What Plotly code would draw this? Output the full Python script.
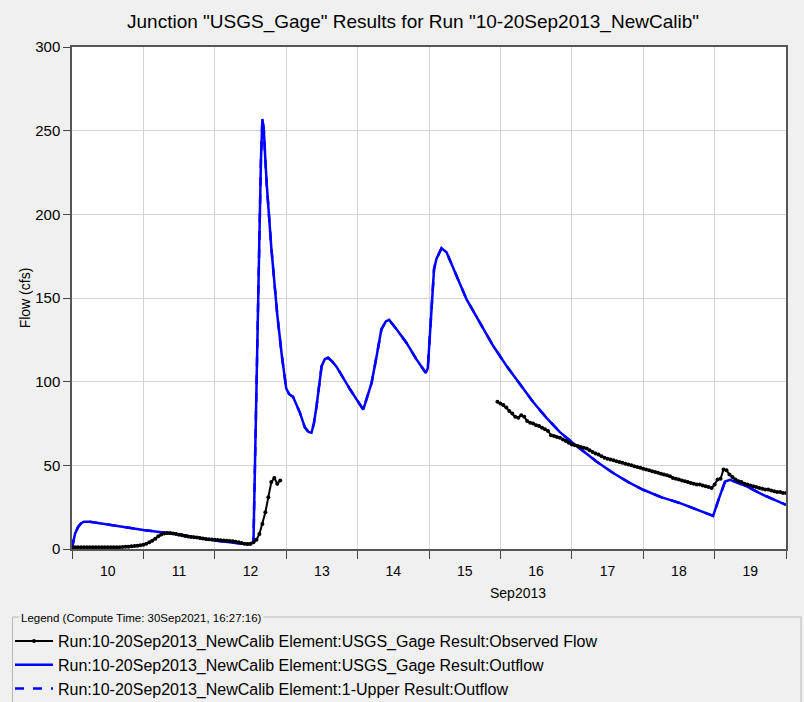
import pandas as pd
import plotly.graph_objects as go

# Simulation start; all times below are hours after this instant
START = pd.Timestamp("2013-09-10 00:00")

# Observed flow (cfs), hourly, first record: 10Sep 00:00 - 12Sep 22:00
obs_flow_a = [
    1.0, 1.0, 1.0, 1.0, 1.0, 1.0, 1.0, 1.0, 1.0, 1.0, 1.0, 1.0, 1.0, 1.0, 1.0, 1.0,
    1.1, 1.2, 1.3, 1.4, 1.6, 1.8, 2.0, 2.2, 2.5, 3.2, 4.0, 5.0, 6.2, 7.6, 8.6, 9.2,
    9.5, 9.5, 9.3, 9.0, 8.5, 8.2, 7.8, 7.4, 7.1, 7.0, 6.8, 6.5, 6.3, 6.0, 5.9, 5.7,
    5.5, 5.4, 5.2, 5.1, 5.0, 4.8, 4.6, 4.3, 4.0, 3.6, 3.2, 3.0, 3.2, 4.0, 5.5, 9.0,
    15.0, 22.0, 31.0, 40.0, 42.5, 39.0, 41.0,
]
obs_start_a = 0

# Observed flow (cfs), hourly, second record: 15Sep 23:00 - 20Sep 00:00
obs_flow_b = [
    88.0, 87.0, 86.0, 84.5, 82.5, 81.0, 79.0, 78.5, 80.0, 79.0, 76.5, 75.5, 75.0,
    74.0, 73.5, 72.5, 71.5, 70.5, 68.0, 67.5, 67.0, 66.5, 65.5, 64.5, 63.5, 62.5,
    62.0, 61.5, 61.0, 60.5, 60.0, 59.0, 58.0, 57.0, 56.5, 55.5, 54.5, 54.0, 53.5,
    53.0, 52.5, 52.0, 51.5, 51.0, 50.5, 50.0, 49.5, 49.0, 48.5, 48.0, 47.5, 47.0,
    46.5, 46.0, 45.5, 45.0, 44.5, 44.0, 43.5, 42.5, 42.0, 41.5, 41.0, 40.5, 40.0,
    39.5, 39.0, 38.5, 38.5, 38.0, 37.5, 37.0, 36.5, 38.5, 41.5, 42.0, 47.5, 47.0,
    44.5, 43.0, 41.5, 40.5, 40.0, 39.0, 38.5, 38.0, 37.5, 37.0, 36.5, 36.0, 35.5,
    35.5, 35.0, 34.5, 34.0, 34.0, 33.5, 33.5,
]
obs_start_b = 143

# Computed outflow at the gage (cfs)
out_hours = [
    0, 1, 2, 3, 4, 6, 12, 24, 36, 48, 58, 60, 61, 61.5, 62, 62.5, 63, 63.5, 64,
    64.5, 65, 65.5, 67, 69, 70.5, 72, 73, 74.3, 76.6, 78.3, 79.5, 80.5, 81.3, 82.2,
    83.9, 85, 86.1, 87.5, 88.9, 93.5, 97.9, 99.5, 100.7, 102.4, 104, 105.5, 106.6,
    109.1, 112.4, 115.8, 118.9, 119.6, 120.5, 121.2, 121.7, 122.5, 124.2, 125.9,
    129.3, 132.6, 137.1, 141.6, 146.1, 150.6, 155.0, 159.5, 164.0, 169, 176.3,
    181.9, 187.0, 192, 198.0, 204.4, 210.0, 215.5, 217.3, 219.5, 221.2, 226.8,
    232.3, 240,
]
out_flow = [
    0.5, 9.0, 13.0, 15.3, 16.3, 16.3, 14.6, 11.4, 8.7, 5.0, 3.0, 2.8, 4.4, 50.0,
    100.0, 149.0, 195.0, 232.0, 257.0, 250.0, 232.0, 217.0, 180.0, 140.0, 116.0,
    96.0, 92.5, 91.0, 81.5, 72.5, 70.0, 69.5, 75.0, 85.3, 109.3, 113.5, 114.3,
    112.0, 109.0, 95.3, 83.3, 92.0, 99.3, 115.3, 131.3, 136.0, 136.9, 131.3, 123.3,
    113.3, 105.3, 108.0, 131.3, 151.3, 167.3, 173.3, 179.7, 177.3, 163.3, 149.3,
    135.3, 121.3, 109.3, 98.3, 87.8, 78.4, 69.8, 62.4, 52.3, 45.4, 40.0, 35.4,
    31.0, 27.4, 23.4, 19.8, 29.4, 40.3, 41.4, 37.4, 32.4, 26.4,
]

# Upstream element outflow coincides with the gage outflow over this run
upper_hours = out_hours
upper_flow = out_flow

y_ticks = [0, 50, 100, 150, 200, 250, 300]

RUN = "Run:10-20Sep2013_NewCalib"
names = {
    "obs": f"{RUN} Element:USGS_Gage Result:Observed Flow",
    "out": f"{RUN} Element:USGS_Gage Result:Outflow",
    "up": f"{RUN} Element:1-Upper Result:Outflow",
}


def to_time(hours):
    return [START + pd.Timedelta(hours=h) for h in hours]


obs_x = (to_time(range(obs_start_a, obs_start_a + len(obs_flow_a)))
         + [None]
         + to_time(range(obs_start_b, obs_start_b + len(obs_flow_b))))
obs_y = obs_flow_a + [None] + obs_flow_b

FONT = "Arial, Liberation Sans, sans-serif"

fig = go.Figure()
fig.add_trace(go.Scatter(
    x=to_time(upper_hours), y=upper_flow, mode="lines", name=names["up"],
    line=dict(color="#0000ff", width=2.5, dash="dash"),
    legendrank=3, legendgroup="c",
))
fig.add_trace(go.Scatter(
    x=to_time(out_hours), y=out_flow, mode="lines", name=names["out"],
    line=dict(color="#0000ff", width=2.5),
    legendrank=2, legendgroup="b",
))
fig.add_trace(go.Scatter(
    x=obs_x, y=obs_y, mode="lines+markers", name=names["obs"],
    line=dict(color="#000000", width=2),
    marker=dict(color="#000000", size=4, symbol="circle"),
    connectgaps=False, legendrank=1, legendgroup="a",
))

L, R, T, B = 72, 18, 47, 153
W, H = 804, 702
pw, ph = W - L - R, H - T - B


def px_x(px):
    return (px - L) / pw


def px_y(py):
    return (H - B - py) / ph


fig.update_layout(
    width=W, height=H,
    margin=dict(l=L, r=R, t=T, b=B, autoexpand=False),
    paper_bgcolor="#f0f0f0",
    plot_bgcolor="#ffffff",
    font=dict(family=FONT, color="#000000"),
    title=dict(
        text='Junction "USGS_Gage" Results for Run "10-20Sep2013_NewCalib"',
        x=413 / W, xref="container", xanchor="center",
        y=1 - 21 / H, yref="container", yanchor="middle",
        font=dict(size=19, family=FONT, color="#000000"),
    ),
    xaxis=dict(
        type="date",
        range=[START, START + pd.Timedelta(days=10)],
        dtick=86400000,
        tick0=START,
        tickformat="%-d",
        ticklabelmode="period",
        ticks="outside", ticklen=8, tickcolor="#444444", tickwidth=1,
        tickfont=dict(size=14, color="#000000"),
        showgrid=True, gridcolor="#d4d4d4", gridwidth=1,
        showline=True, linecolor="#555555", linewidth=1.5, mirror=True,
        zeroline=False,
    ),
    yaxis=dict(
        range=[0, 300],
        tickvals=y_ticks,
        ticks="outside", ticklen=7, tickcolor="#444444", tickwidth=1,
        tickfont=dict(size=15, color="#000000"),
        showgrid=True, gridcolor="#d4d4d4", gridwidth=1,
        showline=True, linecolor="#555555", linewidth=1.5, mirror=True,
        zeroline=False,
        title=dict(text="Flow (cfs)", font=dict(size=14), standoff=1),
    ),
    showlegend=True,
    legend=dict(
        x=px_x(10), xanchor="left",
        y=px_y(624), yanchor="top",
        font=dict(size=16, family=FONT, color="#000000"),
        bgcolor="rgba(0,0,0,0)",
        traceorder="grouped",
        tracegroupgap=0,
        itemwidth=38,
    ),
)

# Month label under the day ticks
fig.add_annotation(
    text="Sep2013", xref="paper", yref="paper",
    x=px_x(518), y=px_y(593), xanchor="center", yanchor="middle",
    showarrow=False, font=dict(size=14, color="#000000"),
)

# Group box around the legend with its caption on the top edge
fig.add_shape(
    type="rect", xref="paper", yref="paper",
    x0=px_x(12.5), x1=px_x(801), y0=px_y(617), y1=px_y(712),
    line=dict(color="#b8b8b8", width=1), fillcolor="rgba(0,0,0,0)",
    layer="below",
)
fig.add_annotation(
    text="Legend (Compute Time: 30Sep2021, 16:27:16)",
    xref="paper", yref="paper",
    x=px_x(19), y=px_y(618), xanchor="left", yanchor="middle",
    showarrow=False, bgcolor="#f0f0f0", borderpad=1,
    font=dict(size=11.5, color="#000000"),
)

fig.write_html("out.html")
